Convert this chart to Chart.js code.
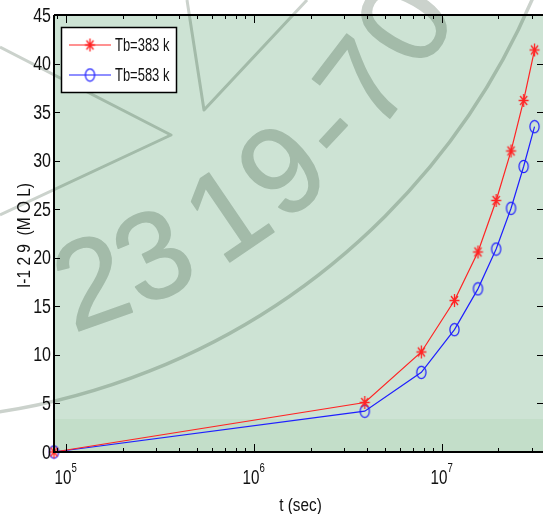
<!DOCTYPE html>
<html>
<head>
<meta charset="utf-8">
<script src="https://cdn.jsdelivr.net/npm/chart.js@4/dist/chart.umd.min.js"></script>
<style>
  html, body { margin: 0; padding: 0; background: #fff; }
  #wrap { width: 543px; height: 514px; }
</style>
</head>
<body>
<div id="wrap"><canvas id="chart1"></canvas></div>
<script>
// time points (sec): 1, 45, 90 ... 360 days
var times = [86400, 3888000, 7776000, 11664000, 15552000, 19440000, 23328000, 27216000, 31104000];
var tb383 = [0, 5.1, 10.3, 15.6, 20.6, 25.9, 31.0, 36.2, 41.4];
var tb583 = [0, 4.2, 8.2, 12.6, 16.8, 20.9, 25.1, 29.4, 33.5];
var seriesNames = ['Tb=383 k', 'Tb=583 k'];
var yTicks = [0, 5, 10, 15, 20, 25, 30, 35, 40, 45];
var xMajor = [1e5, 1e6, 1e7];
var xTitle = 't (sec)';
var yTitle = 'I-1 2 9  (M O L)';
var wmChars = ['2', '3', '1', '9', '-', '7', '0'];

var FONT = "'Liberation Sans', Arial, sans-serif";

function toPoints(ys) {
    return ys.map(function (v, i) { return { x: times[i], y: v }; });
}

// 좁은 글꼴 흉내 (가로 압축)
function narrowText(c, txt, x, y, size, sx, align, base) {
    c.save();
    c.font = size + 'px ' + FONT;
    c.textAlign = align;
    c.textBaseline = base;
    c.fillStyle = '#111';
    c.translate(x, y);
    c.scale(sx, 1);
    c.fillText(txt, 0, 0);
    c.restore();
}

// 마커 이미지
function makeStar(color) {
    var cv = document.createElement('canvas');
    cv.width = 13; cv.height = 15;
    var c = cv.getContext('2d');
    c.strokeStyle = color;
    c.lineWidth = 1.3;
    c.beginPath();
    c.moveTo(1.5, 7.5); c.lineTo(11.5, 7.5);
    c.moveTo(6.5, 1); c.lineTo(6.5, 14);
    c.moveTo(3, 3); c.lineTo(10, 12);
    c.moveTo(10, 3); c.lineTo(3, 12);
    c.stroke();
    return cv;
}
function makeOval(color) {
    var cv = document.createElement('canvas');
    cv.width = 13; cv.height = 15;
    var c = cv.getContext('2d');
    c.strokeStyle = color;
    c.lineWidth = 1.2;
    c.beginPath();
    c.ellipse(6.5, 7.5, 4.6, 6.1, 0, 0, Math.PI * 2);
    c.stroke();
    return cv;
}
var redStar = makeStar('#ff2424');
var blueOval = makeOval('#1f1fff');

// 배경 + 워터마크
var bgPlugin = {
    id: 'bg',
    beforeDraw: function (chart) {
        var c = chart.ctx, a = chart.chartArea;
        c.save();
        c.fillStyle = '#cde3d4';
        c.fillRect(a.left, a.top, a.right - a.left, a.bottom - a.top);
        c.fillStyle = '#c3dec9';
        c.fillRect(a.left, a.bottom - 33, a.right - a.left, 33);
        c.restore();
    },
    beforeDatasetsDraw: function (chart) {
        var w = chart.width, h = chart.height;
        var off = document.createElement('canvas');
        off.width = w; off.height = h;
        var o = off.getContext('2d');
        var cx = -107, cy = -276;
        var col = '#cbd2cc';
        o.fillStyle = col;
        o.strokeStyle = col;
        // 글자
        var angs = [70.4, 63.9, 55.7, 48.9, 42.9, 37.3, 30.2];
        o.font = "124px " + FONT;
        o.textAlign = 'center';
        o.textBaseline = 'middle';
        o.lineWidth = 1.5;
        o.lineJoin = 'round';
        wmChars.forEach(function (ch, i) {
            var r = angs[i] * Math.PI / 180;
            o.save();
            o.translate(cx + 600 * Math.cos(r), cy + 600 * Math.sin(r));
            o.rotate(r - Math.PI / 2);
            o.fillText(ch, 0, 0);
            o.strokeText(ch, 0, 0);
            o.restore();
        });
        // 원호
        o.lineWidth = 3.5;
        o.beginPath();
        o.arc(cx, cy, 696, 0, Math.PI);
        o.stroke();
        // 별 꼭지
        o.lineWidth = 3;
        o.beginPath();
        o.moveTo(0, 47); o.lineTo(171, 135); o.lineTo(0, 215);
        o.moveTo(187, 0); o.lineTo(204, 110); o.lineTo(307, 0);
        o.stroke();

        var c = chart.ctx;
        c.save();
        c.globalCompositeOperation = 'multiply';
        c.drawImage(off, 0, 0, w, h);
        c.restore();
    }
};

// 안쪽 눈금 + 테두리 + 글자 (MATLAB 스타일)
var axesPlugin = {
    id: 'axesBox',
    afterDatasetsDraw: function (chart) {
        var c = chart.ctx, a = chart.chartArea;
        var xs = chart.scales.x, ys = chart.scales.y;
        c.save();
        c.strokeStyle = '#000';
        c.lineWidth = 1;
        c.beginPath();
        yTicks.forEach(function (v) {
            var p = Math.round(ys.getPixelForValue(v)) + 0.5;
            c.moveTo(a.left, p); c.lineTo(a.left + 6, p);
            c.moveTo(a.right, p); c.lineTo(a.right - 6, p);
        });
        for (var e = 4; e <= 7; e++) {
            for (var m = 1; m <= 9; m++) {
                var val = m * Math.pow(10, e);
                if (val < xs.min || val > xs.max) continue;
                var px = Math.round(xs.getPixelForValue(val)) + 0.5;
                var len = (m === 1) ? 8 : 4;
                c.moveTo(px, a.bottom); c.lineTo(px, a.bottom - len);
                c.moveTo(px, a.top); c.lineTo(px, a.top + len);
            }
        }
        c.stroke();

        c.lineWidth = 2;
        c.beginPath();
        c.moveTo(a.left, a.top); c.lineTo(a.right, a.top);
        c.moveTo(a.left, a.top); c.lineTo(a.left, a.bottom + 1);
        c.moveTo(a.left - 1, a.bottom); c.lineTo(a.right, a.bottom);
        c.stroke();
        c.restore();

        // y 눈금 글자
        yTicks.forEach(function (v) {
            narrowText(c, String(v), a.left - 3, ys.getPixelForValue(v) + 1, 20, 0.8, 'right', 'middle');
        });
        // x 눈금 글자 (10^n)
        xMajor.forEach(function (v) {
            var px = xs.getPixelForValue(v);
            var ex = String(Math.round(Math.log10(v)));
            narrowText(c, '10', px + 5.5, a.bottom + 32, 20, 0.76, 'right', 'alphabetic');
            narrowText(c, ex, px + 5.5, a.bottom + 20, 12, 0.8, 'left', 'alphabetic');
        });
        // 축 제목
        narrowText(c, xTitle, (a.left + a.right) / 2 + 2, a.bottom + 59, 18, 0.85, 'center', 'alphabetic');
        c.save();
        c.font = '19px ' + FONT;
        var tw = c.measureText(yTitle).width;
        c.translate(25, (a.top + a.bottom) / 2 + 2);
        c.rotate(-Math.PI / 2);
        narrowText(c, yTitle, 0, 0, 19, 105 / tw, 'center', 'middle');
        c.restore();
    },
    afterDraw: function (chart) {
        var c = chart.ctx;
        var x0 = 61, y0 = 27, w = 115, h = 65;
        c.save();
        c.fillStyle = '#fff';
        c.fillRect(x0, y0, w, h);
        c.strokeStyle = '#000';
        c.lineWidth = 1.5;
        c.strokeRect(x0 + 0.5, y0 + 0.5, w, h);
        var ds = chart.data.datasets;
        [0, 1].forEach(function (i) {
            var yy = y0 + 18 + i * 30;
            c.strokeStyle = ds[i].borderColor;
            c.lineWidth = 1.2;
            c.beginPath();
            c.moveTo(x0 + 8, yy); c.lineTo(x0 + 50, yy);
            c.stroke();
            var img = ds[i].pointStyle;
            c.drawImage(img, x0 + 29 - img.width / 2, yy - img.height / 2);
            narrowText(c, ds[i].label, x0 + 54, yy + 1, 18, 0.72, 'left', 'middle');
        });
        c.restore();
    }
};

var ctx = document.getElementById('chart1');
var chart1 = new Chart(ctx, {
    type: 'line',
    data: {
        datasets: [{
            label: seriesNames[0],
            data: toPoints(tb383),
            borderColor: '#ff2424',
            backgroundColor: '#ff2424',
            borderWidth: 1.2,
            pointStyle: redStar,
            pointRadius: 6,
            clip: false,
            tension: 0
        }, {
            label: seriesNames[1],
            data: toPoints(tb583),
            borderColor: '#1f1fff',
            backgroundColor: 'rgba(0,0,0,0)',
            borderWidth: 1.2,
            pointStyle: blueOval,
            pointRadius: 6,
            clip: false,
            tension: 0
        }]
    },
    options: {
        responsive: true,
        maintainAspectRatio: false,
        animation: false,
        layout: { autoPadding: false, padding: { top: 15, right: 0, left: 0, bottom: 0 } },
        plugins: {
            legend: { display: false },
            tooltip: { enabled: false }
        },
        scales: {
            x: {
                type: 'logarithmic',
                min: 86400,
                max: 3.45e7,
                grid: { display: false },
                border: { display: false },
                ticks: { display: false },
                afterFit: function (scale) { scale.height = 62; }
            },
            y: {
                min: 0,
                max: 45,
                grid: { display: false },
                border: { display: false },
                ticks: { display: false },
                afterBuildTicks: function (scale) {
                    scale.ticks = yTicks.map(function (v) { return { value: v }; });
                },
                afterFit: function (scale) { scale.width = 54; }
            }
        }
    },
    plugins: [bgPlugin, axesPlugin]
});
</script>
</body>
</html>
